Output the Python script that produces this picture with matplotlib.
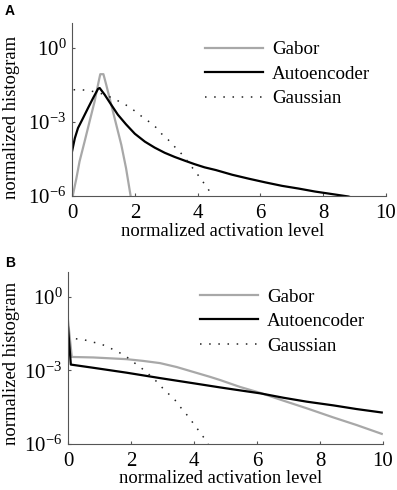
import matplotlib

matplotlib.use("Agg")

import matplotlib.pyplot as plt  # noqa: E402
import numpy as np  # noqa: E402

# Values; y values are log10 of the normalized histogram.
# Panel A
gabor_a_x = [0.0, 0.03, 0.14, 0.24, 0.40, 0.56, 0.72, 0.85, 0.90, 1.00,
             1.09, 1.25, 1.41, 1.57, 1.72, 1.86, 1.90]
gabor_a_log = [-6.5, -5.95, -5.28, -4.60, -3.80, -2.98, -2.17, -1.36, -1.07, -1.07,
               -1.50, -2.31, -3.12, -3.93, -4.87, -5.95, -6.3]

auto_a_x = [0.0, 0.09, 0.19, 0.35, 0.51, 0.67, 0.83, 0.88, 1.04, 1.25, 1.46,
            1.72, 2.0, 2.32, 2.63, 2.95, 3.27, 3.59, 3.90, 4.22, 4.58, 5.10,
            5.63, 6.16, 6.69, 7.22, 7.74, 8.27, 8.80, 9.0]
auto_a_log = [-4.20, -3.66, -3.25, -2.85, -2.44, -2.04, -1.66, -1.63, -1.90,
              -2.31, -2.71, -3.10, -3.48, -3.80, -4.04, -4.25, -4.42, -4.57,
              -4.71, -4.84, -4.95, -5.14, -5.30, -5.45, -5.59, -5.70, -5.82,
              -5.92, -6.02, -6.1]

gauss_a_x = [0.05, 0.30, 0.56, 0.85, 1.10, 1.33, 1.57, 1.81, 2.02, 2.24, 2.46,
             2.67, 2.85, 3.06, 3.24, 3.43, 3.61, 3.78, 3.94, 4.10, 4.25, 4.41]
gauss_a_log = [-1.70, -1.70, -1.74, -1.82, -1.93, -2.06, -2.22, -2.38, -2.58,
               -2.80, -3.00, -3.22, -3.48, -3.72, -3.97, -4.21, -4.48, -4.77,
               -5.03, -5.30, -5.57, -5.86]

# Panel B
gabor_b_x = [0.0, 0.12, 0.8, 1.86, 2.38, 2.92, 3.45, 3.98, 4.51, 4.83, 5.46,
             6.10, 6.84, 7.58, 8.42, 9.16, 9.96]
gabor_b_log = [-0.97, -2.46, -2.48, -2.55, -2.62, -2.71, -2.87, -3.07, -3.27,
               -3.40, -3.68, -3.92, -4.24, -4.55, -4.92, -5.23, -5.59]

auto_b_x = [0.0, 0.09, 0.8, 1.86, 2.92, 3.98, 4.83, 5.25, 6.10, 6.84, 7.58,
            8.42, 9.16, 9.96]
auto_b_log = [-1.24, -2.77, -2.90, -3.10, -3.32, -3.53, -3.70, -3.78, -3.94,
              -4.12, -4.28, -4.43, -4.58, -4.72]

gauss_b_x = [0.25, 0.51, 0.77, 1.04, 1.30, 1.52, 1.76, 2.00, 2.21, 2.42, 2.63,
             2.82, 3.00, 3.20, 3.40, 3.56, 3.74, 3.90, 4.06, 4.21, 4.37, 4.45]
gauss_b_log = [-1.72, -1.76, -1.85, -1.93, -2.07, -2.22, -2.36, -2.59, -2.80,
               -3.00, -3.24, -3.47, -3.72, -3.97, -4.22, -4.49, -4.76, -5.03,
               -5.30, -5.57, -5.84, -6.0]

series_labels = ["Gabor", "Autoencoder", "Gaussian"]
x_ticks = [0, 2, 4, 6, 8, 10]
y_ticks = [1e-6, 1e-3, 1e0]
y_tick_labels = [r"$10^{-6}$", r"$10^{-3}$", r"$10^{0}$"]

plt.rcParams.update(
    {
        "font.family": ["Liberation Serif", "DejaVu Serif"],
        "mathtext.fontset": "custom",
        "mathtext.rm": "Liberation Serif",
        "mathtext.it": "Liberation Serif:italic",
        "font.size": 14,
        "axes.linewidth": 0.8,
        "axes.edgecolor": "#555555",
        "xtick.direction": "in",
        "ytick.direction": "in",
        "xtick.major.size": 2.5,
        "ytick.major.size": 2.5,
        "xtick.color": "#555555",
        "ytick.color": "#555555",
        "xtick.labelcolor": "black",
        "ytick.labelcolor": "black",
    }
)

GRAY = "#a8a8a8"
DOTS = (0, (1, 5))
TICK_SIZE = 15
LABEL_SIZE = 13.4
LEGEND_SIZE = 13.7

fig = plt.figure(figsize=(3.97, 4.90), dpi=100)


def draw_panel(ax, gabor, auto, gauss, letter, letter_y, legend_anchor, xlabel_pos, ylabel_pos):
    ax.plot(gabor[0], 10 ** np.asarray(gabor[1]), color=GRAY, lw=1.6, label=series_labels[0])
    ax.plot(auto[0], 10 ** np.asarray(auto[1]), color="black", lw=1.6, label=series_labels[1])
    ax.plot(gauss[0], 10 ** np.asarray(gauss[1]), color="#222222", lw=1.1,
            linestyle=DOTS, label=series_labels[2])
    ax.set_yscale("log")
    ax.set_xlim(0, 10)
    ax.set_ylim(1e-6, 1e1)
    ax.set_xticks(x_ticks)
    ax.set_yticks(y_ticks)
    ax.set_yticklabels(y_tick_labels)
    ax.yaxis.set_minor_locator(matplotlib.ticker.NullLocator())
    ax.tick_params(axis="x", pad=6, labelsize=TICK_SIZE)
    ax.tick_params(axis="y", pad=4, labelsize=TICK_SIZE)
    for side in ("top", "right"):
        ax.spines[side].set_visible(False)
    ax.set_xlabel("normalized activation level", fontsize=LABEL_SIZE)
    ax.set_ylabel("normalized histogram", fontsize=LABEL_SIZE)
    ax.xaxis.set_label_coords(*xlabel_pos)
    ax.yaxis.set_label_coords(*ylabel_pos)
    ax.legend(loc="upper left", bbox_to_anchor=legend_anchor, frameon=False,
              fontsize=LEGEND_SIZE, handlelength=3.05, handletextpad=0.47,
              labelspacing=0.38, borderpad=0, borderaxespad=0)
    fig.text(0.012, letter_y, letter, fontsize=10, fontweight="bold",
             family="Liberation Sans", va="baseline", ha="left")


ax_a = fig.add_axes([0.1814, 0.600, 0.791, 0.353])
draw_panel(ax_a, (gabor_a_x, gabor_a_log), (auto_a_x, auto_a_log),
           (gauss_a_x, gauss_a_log), "A", 0.969, (0.423, 0.897), (0.48, -0.155),
           (-0.165, 0.454))

ax_b = fig.add_axes([0.1713, 0.094, 0.7935, 0.351])
draw_panel(ax_b, (gabor_b_x, gabor_b_log), (auto_b_x, auto_b_log),
           (gauss_b_x, gauss_b_log), "B", 0.455, (0.419, 0.905), (0.483, -0.15),
           (-0.152, 0.47))

fig.savefig("out.png", dpi=100)
